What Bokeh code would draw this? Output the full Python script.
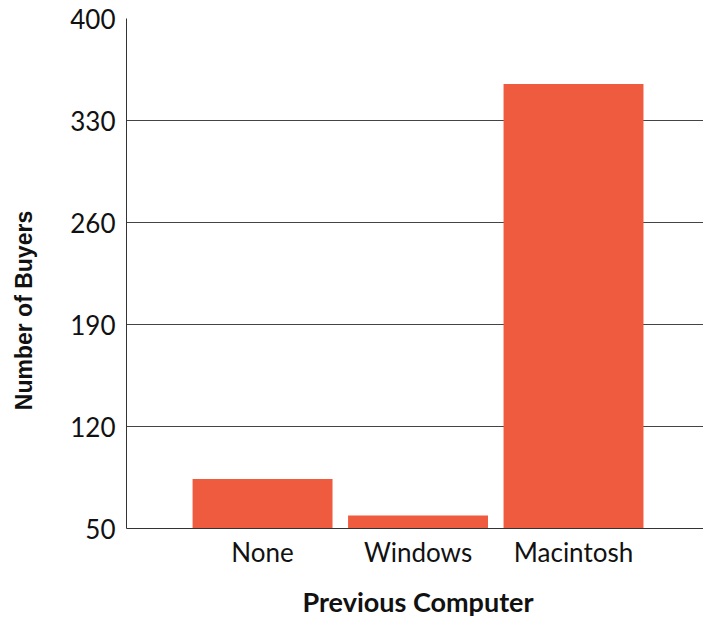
import math
from bokeh.plotting import figure
from bokeh.models import Range1d, FixedTicker
from bokeh.layouts import row, column
from bokeh.core.properties import value
from bokeh.embed import file_html
from bokeh.resources import INLINE

categories = ["None", "Windows", "Macintosh"]
buyers = [84, 59, 355]
y_ticks = [50, 120, 190, 260, 330, 400]
x_title = "Previous Computer"
y_title = "Number of Buyers"

xs = list(range(len(categories)))
font = "Lato"

LW, MW, MH, XH = 40, 663, 573, 44
FRAME_LEFT = 126  # page x of the plot frame's left edge

# main chart
p = figure(width=MW, height=MH, output_backend="svg", toolbar_location=None,
           x_range=Range1d(-0.875, 2.836), y_range=Range1d(50, 400),
           min_border_left=FRAME_LEFT - LW, min_border_right=0,
           min_border_top=18, min_border_bottom=45)
p.outline_line_color = None
p.background_fill_color = "white"

p.vbar(x=xs, top=buyers, bottom=50, width=0.9, color="#EF5B3F", line_color=None)

p.xaxis.ticker = FixedTicker(ticks=xs)
p.xaxis.major_label_overrides = {i: c for i, c in zip(xs, categories)}
p.yaxis.ticker = FixedTicker(ticks=y_ticks)

for ax in (p.xaxis, p.yaxis):
    ax.major_tick_line_color = None
    ax.minor_tick_line_color = None
    ax.axis_line_color = "#333333"
    ax.major_label_text_font = font
    ax.major_label_text_font_size = "26px"
    ax.major_label_text_color = "#111111"
p.xaxis.major_label_standoff = 1
p.yaxis.major_label_standoff = 5

p.xgrid.grid_line_color = None
p.ygrid.ticker = FixedTicker(ticks=y_ticks)
p.ygrid.grid_line_color = "#444444"
p.ygrid.grid_line_width = 1


def label_fig(w, h, xw=None):
    f = figure(width=w, height=h, output_backend="svg", toolbar_location=None,
               x_range=Range1d(0, xw if xw else w), y_range=Range1d(0, h),
               min_border=0, x_axis_type=None, y_axis_type=None)
    f.outline_line_color = None
    f.grid.visible = False
    return f


# y-axis title (left strip)
yl = label_fig(LW, MH + XH)
yl.text(x=[23], y=[MH + XH - 310], text=[y_title], angle=math.pi / 2,
        text_font=value("Liberation Sans"), text_font_style="bold",
        text_font_size="23px", text_color="#111111",
        text_align="center", text_baseline="middle")

# x-axis title (bottom strip); its frame is aligned with the main frame
frame_w = 703 - FRAME_LEFT
xl = label_fig(MW, XH, xw=frame_w)
xl.min_border_left = FRAME_LEFT - LW
xl.x_range = Range1d(0, frame_w)
xl.text(x=[417.5 - FRAME_LEFT], y=[XH - (601 - MH)], text=[x_title],
        text_font=value(font), text_font_style="bold",
        text_font_size="27px", text_color="#111111",
        text_align="center", text_baseline="middle")

layout = row(yl, column(p, xl, spacing=0), spacing=0)

open("out.html", "w").write(file_html(layout, INLINE))
